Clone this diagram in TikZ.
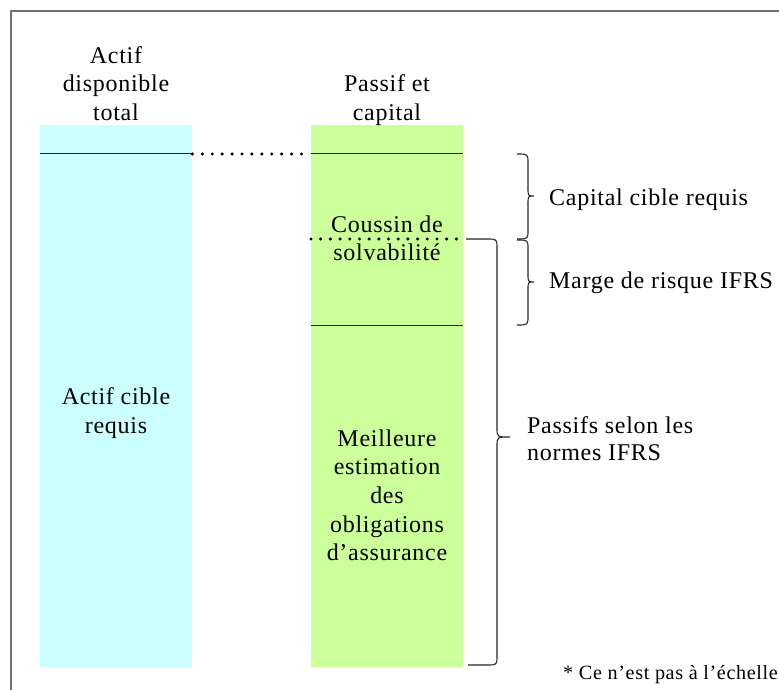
\documentclass[tikz,border=0pt]{standalone}
\usepackage{fontspec}
\setmainfont{Liberation Serif}[LetterSpace=3]
\definecolor{framegray}{RGB}{112,112,112}
\definecolor{cyanfill}{RGB}{204,255,255}
\definecolor{greenfill}{RGB}{204,255,153}
\newcommand\firstline{\rule{0pt}{20pt}}
\begin{document}
\begin{tikzpicture}[x=1pt,y=-1pt,
  txt/.style={font=\fontsize{24}{28.6}\selectfont, inner sep=0pt, align=center, anchor=north},
  lbl/.style={font=\fontsize{24}{28.6}\selectfont, inner sep=0pt, anchor=base west},
  col/.style={inner sep=0pt, minimum width=152pt, minimum height=542pt, anchor=north west},
  rulestyle/.style={line width=1pt, draw=black!85},
  dotline/.style={line width=3.4pt, line cap=round},
  bracestyle/.style={line width=1.1pt, draw=black!85}]
\useasboundingbox (0,0) rectangle (779,690);
\fill[white] (0,0) rectangle (779,690);
\draw[line width=2pt, draw=framegray] (10.5,690) -- (10.5,11.5) -- (779,11.5);

% columns
\node[col, fill=cyanfill] (actif) at (40,125) {};
\node[col, fill=greenfill] (passif) at (311,125) {};

% horizontal lines
\draw[rulestyle] (actif.west |- 0,154) coordinate (aL) -- (actif.east |- 0,154) coordinate (aR);
\draw[rulestyle] (passif.west |- 0,154) coordinate (pL) -- (passif.east |- 0,154) coordinate (pR);
\draw[rulestyle] (passif.west |- 0,325) coordinate (mL) -- (passif.east |- 0,325) coordinate (mR);
\draw[dotline, dash pattern=on 0pt off 9.92pt] (aR) -- (pL);
\coordinate (bigTop) at (466,239);
\draw[dotline, dash pattern=on 0pt off 9.69pt] (passif.west |- 0,239) coordinate (cL) -- (bigTop);

% texts
\node[txt] (t1) at (116,43) {\firstline Actif\\disponible\\total};
\node[txt] (t2) at (387,71.5) {\firstline Passif et\\capital};
\node[txt] (coussin) at (387,212) {\firstline Coussin de\\solvabilité};
\node[txt] (cible) at (116,384.3) {\firstline Actif cible\\requis};
\node[txt] (meilleure) at (387,426) {\firstline Meilleure\\estimation\\des\\obligations\\d’assurance};
\node[lbl] (capital) at (549,205) {Capital cible requis};
\node[lbl] (marge) at (549,288) {Marge de risque IFRS};
\node[txt, anchor=north west, align=left, font=\fontsize{24}{27}\selectfont] (passifs) at (527,413) {\firstline Passifs selon les\\normes IFRS};
\node[inner sep=0pt, anchor=base east, font=\fontsize{20.2}{22}\selectfont] (note) at (778,679) {* Ce n’est pas à l’échelle};

% braces
\draw[bracestyle] (517,154) .. controls (528,154) .. (528,163) -- (528,188)
  .. controls (528,196) .. (534,196) .. controls (528,196) .. (528,204) -- (528,230)
  .. controls (528,239) .. (517,239);
\draw[bracestyle] (517,240) .. controls (528,240) .. (528,249) -- (528,274)
  .. controls (528,282) .. (534,282) .. controls (528,282) .. (528,290) -- (528,316)
  .. controls (528,325) .. (517,325);
\draw[bracestyle] (bigTop) -- (487,239) .. controls (497,239) .. (497,249) -- (497,428)
  .. controls (497,437) .. (510,437) .. controls (497,437) .. (497,446) -- (497,655)
  .. controls (497,665) .. (487,665) -- (468,665);
\end{tikzpicture}
\end{document}
